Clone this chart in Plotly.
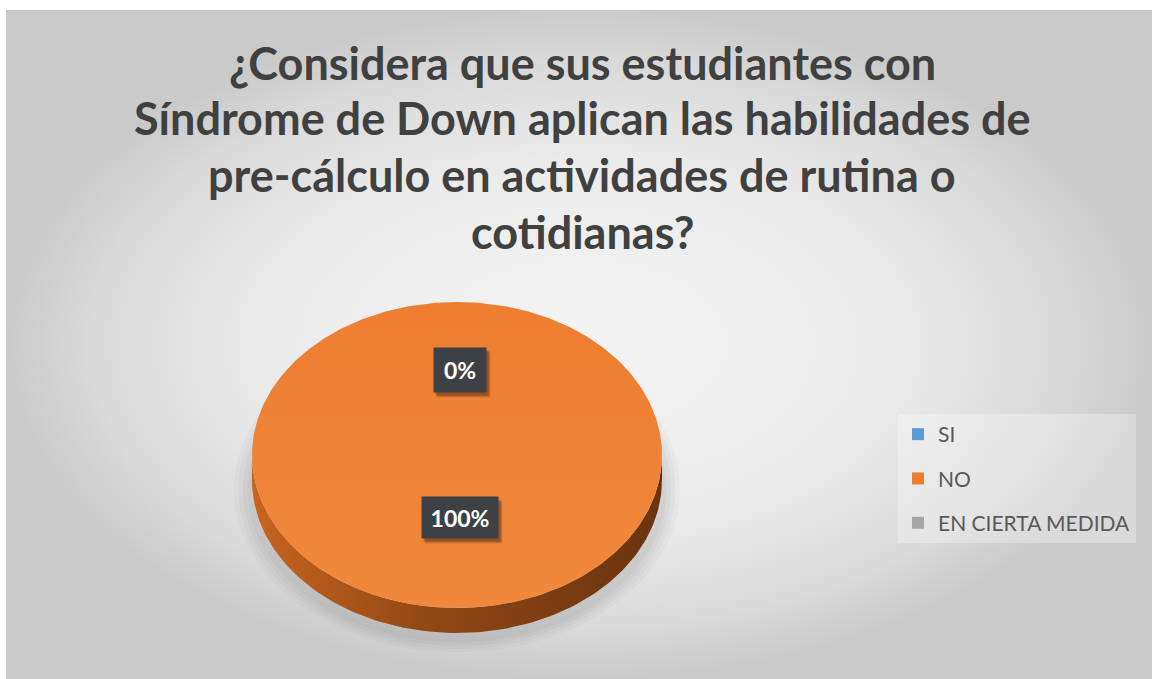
import numpy as np
import plotly.graph_objects as go

# ---------------- data ----------------
categories = ["SI", "NO", "EN CIERTA MEDIDA"]
values = [0, 100, 0]
title_lines = [
    "¿Considera que sus estudiantes con",
    "Síndrome de Down aplican las habilidades de",
    "pre-cálculo en actividades de rutina o",
    "cotidianas?",
]

# ---------------- styles ----------------
slice_colors = ["#5B9BD5", "#ED7D31", "#A5A5A5"]
side_scales = {
    "#5B9BD5": [[0, "#4a80b0"], [0.5, "#33597d"], [1, "#2a4a68"]],
    "#ED7D31": [[0, "#c8641f"], [0.45, "#8f4714"], [1, "#6a3310"]],
    "#A5A5A5": [[0, "#8a8a8a"], [0.5, "#666666"], [1, "#555555"]],
}
W, H = 1152, 679
CX, CY, RX, RY = 457, 455, 205, 153      # ellipse of the pie top (pixels)
DEPTH = 25 / RY                            # pie thickness in units

def px_x(p):
    return p / W

def px_y(p):
    return 1 - p / H

# pie subplot box (pixels)
pad_l, pad_r, pad_t, pad_b = 1.15 * RX, 1.15 * RX, RY + 12, RY + 25 + 45
x2_dom = [px_x(CX - pad_l), px_x(CX + pad_r)]
y2_dom = [px_y(CY + pad_b), px_y(CY - pad_t)]
x2_rng = [-pad_l / RX, pad_r / RX]
y2_rng = [-pad_b / RY, pad_t / RY]

fig = go.Figure()

# background (gradient panel)
fig.add_trace(go.Scatter(
    x=[0, 1, 1, 0, 0], y=[0, 0, 1, 1, 0], mode="lines", fill="toself",
    line=dict(width=0), fillcolor="#e6e6e6",
    fillgradient=dict(type="radial",
                      colorscale=[[0, "#f4f4f4"], [0.55, "#ebebeb"],
                                  [0.85, "#d9d9d9"], [1, "#cacaca"]]),
    hoverinfo="skip", showlegend=False, xaxis="x", yaxis="y"))
fig.add_trace(go.Scatter(
    x=[0, 1], y=[1, 1], mode="lines", line=dict(width=1.5, color="#c2c2c2"),
    hoverinfo="skip", showlegend=False, xaxis="x", yaxis="y"))

# soft shadow under the pie
for k, a in enumerate([0.03, 0.035, 0.04, 0.045]):
    s = 1.0 + 0.022 * (4 - k)
    t = np.linspace(0, 2 * np.pi, 200)
    fig.add_trace(go.Scatter(
        x=s * np.cos(t), y=s * np.sin(t) * 0.98 - DEPTH - 0.06,
        mode="lines", fill="toself", line=dict(width=0),
        fillcolor=f"rgba(60,60,60,{a})", hoverinfo="skip", showlegend=False,
        xaxis="x2", yaxis="y2"))

total = float(sum(values))
fracs = [v / total for v in values]
cum = np.concatenate([[0.0], np.cumsum(fracs)])
starts = np.pi / 2 - 2 * np.pi * cum[:-1]
ends = np.pi / 2 - 2 * np.pi * cum[1:]

# side walls (front half only)
for i, f in enumerate(fracs):
    if f <= 0:
        continue
    a0, a1 = starts[i], ends[i]
    for k in (-1, 0, 1):
        lo = max(a1, -np.pi + 2 * np.pi * k)
        hi = min(a0, 2 * np.pi * k)
        if hi > lo:
            t = np.linspace(lo, hi, 150)
            xs = np.concatenate([np.cos(t), np.cos(t[::-1])])
            ys = np.concatenate([np.sin(t), np.sin(t[::-1]) - DEPTH])
            fig.add_trace(go.Scatter(
                x=xs, y=ys, mode="lines", fill="toself", line=dict(width=0),
                fillcolor=slice_colors[i],
                fillgradient=dict(type="horizontal", colorscale=side_scales[slice_colors[i]]),
                hoverinfo="skip", showlegend=False, xaxis="x2", yaxis="y2"))

# top faces
for i, f in enumerate(fracs):
    if f <= 0:
        continue
    t = np.linspace(starts[i], ends[i], max(int(360 * f), 4))
    xs, ys = np.cos(t), np.sin(t)
    if f < 1:
        xs = np.concatenate([[0], xs, [0]])
        ys = np.concatenate([[0], ys, [0]])
    fig.add_trace(go.Scatter(
        x=xs, y=ys, mode="lines", fill="toself", line=dict(width=0),
        fillcolor=slice_colors[i],
        fillgradient=dict(type="vertical",
                          colorscale=[[0, "#F0893D"], [1, "#ED7D31"]]) if slice_colors[i] == "#ED7D31" else None,
        name=categories[i], hoverinfo="skip", showlegend=False,
        xaxis="x2", yaxis="y2"))

# legend entries
for i, c in enumerate(categories):
    fig.add_trace(go.Scatter(
        x=[None], y=[None], mode="markers", name=c, legendgroup=c,
        marker=dict(symbol="square", size=12, color=slice_colors[i]),
        xaxis="x2", yaxis="y2"))

# data labels (labels that fall exactly on top of each other are drawn once)
annotations = []
placed = []
for i, f in enumerate(fracs):
    mid = (starts[i] + ends[i]) / 2
    r = 0.556 if f == 0 else 0.41
    lx, ly = r * np.cos(mid), r * np.sin(mid)
    txt = f"{f:.0%}"
    key = (round(lx, 4), round(ly, 4), txt)
    if key in placed:
        continue
    placed.append(key)
    bw = 50 if len(txt) <= 2 else 74
    bh = 42 if len(txt) <= 2 else 39
    common = dict(x=lx, y=ly, xref="x2", yref="y2", showarrow=False,
                  width=bw, height=bh, xanchor="center", yanchor="middle")
    for sx, sy, al in [(7, -5, 0.12), (6, -4, 0.18), (5, -3, 0.22)]:
        annotations.append(dict(text=" ", font=dict(color="rgba(0,0,0,0)", size=10),
                                bgcolor=f"rgba(40,20,5,{al})", xshift=sx, yshift=sy, **common))
    annotations.append(dict(text=f"<b>{txt}</b>",
                            font=dict(color="white", size=23, family="Lato"),
                            bgcolor="#3d4145", xshift=3, **common))

# title lines
title_y = [63, 118, 175, 232]
for line, yy in zip(title_lines, title_y):
    annotations.append(dict(
        text=f"<b>{line}</b>", x=px_x(582), y=px_y(yy), xref="paper", yref="paper",
        xanchor="center", yanchor="middle", showarrow=False,
        font=dict(family="Lato", size=45, color="#404040")))

fig.update_layout(
    width=W, height=H, margin=dict(l=0, r=0, t=0, b=0),
    paper_bgcolor="white", plot_bgcolor="rgba(0,0,0,0)",
    xaxis=dict(domain=[px_x(6), 1], range=[0, 1], visible=False, fixedrange=True),
    yaxis=dict(domain=[0, px_y(10)], range=[0, 1], visible=False, fixedrange=True),
    xaxis2=dict(domain=x2_dom, range=x2_rng, visible=False, anchor="y2", fixedrange=True),
    yaxis2=dict(domain=y2_dom, range=y2_rng, visible=False, anchor="x2", fixedrange=True),
    showlegend=True,
    legend=dict(x=px_x(898), y=px_y(414), xanchor="left", yanchor="top",
                bgcolor="rgba(255,255,255,0.3)",
                font=dict(family="Lato", size=21, color="#595959"),
                tracegroupgap=14),
    annotations=annotations,
)

fig.write_html("out.html", config={"displayModeBar": False},
               post_script="document.body.style.margin='0px';")
